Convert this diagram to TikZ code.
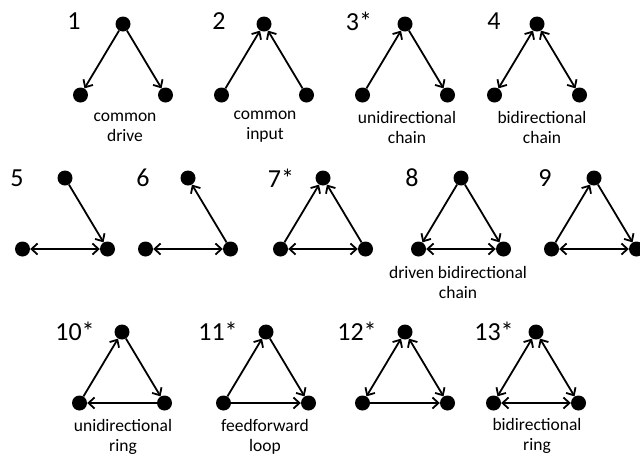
\documentclass[tikz,border=0pt]{standalone}
\usepackage{fontspec}
\setmainfont{Carlito}
\usetikzlibrary{arrows.meta}

% three-node motif: top, bottom-left, bottom-right
\newcommand\triad[3]{%
  \node[dot] (#1t) at (#2,#3) {};
  \node[dot] (#1l) at (#2-42.5,#3+71) {};
  \node[dot] (#1r) at (#2+42.5,#3+71) {};
}

\begin{document}
\begin{tikzpicture}[x=1pt,y=-1pt,
  dot/.style={circle,fill=black,inner sep=0pt,minimum size=15pt},
  link/.style={line width=1.8pt},
  >={Straight Barb[length=6pt,width=11pt]},
  num/.style={font=\fontsize{26}{26}\selectfont,inner sep=0pt},
  motiflabel/.style={font=\fontsize{17.5}{20}\selectfont,align=center,inner sep=0pt}]

\useasboundingbox (0,0) rectangle (640,456);

% ---- row 1 ----
\triad{a}{123}{24}
\triad{b}{264}{24}
\triad{c}{405}{24}
\triad{d}{537}{24}
\node[num] (na) at (74,21.5) {1};
\node[num] (nb) at (219,21.5) {2};
\node[num] (nc) at (359,21.5) {3*};
\node[num] (nd) at (494,21.5) {4};
\node[motiflabel] (ca) at (125,127) {common\\drive};
\node[motiflabel] (cb) at (265,127) {common\\input};
\node[motiflabel] (cc) at (407,127) {unidirectional\\chain};
\node[motiflabel] (cd) at (542,127) {bidirectional\\chain};

\draw[link,->] (at) -- (al);
\draw[link,->] (at) -- (ar);
\draw[link,->] (bl) -- (bt);
\draw[link,->] (br) -- (bt);
\draw[link,->] (cl) -- (ct);
\draw[link,->] (ct) -- (cr);
\draw[link,<->] (dt) -- (dl);
\draw[link,<->] (dt) -- (dr);

% ---- row 2 ----
\triad{e}{65}{178}
\triad{f}{188}{178}
\triad{g}{323}{178}
\triad{h}{461}{178}
\triad{i}{594}{178}
\node[num] (ne) at (17,178) {5};
\node[num] (nf) at (143,178) {6};
\node[num] (ng) at (281,178) {7*};
\node[num] (nh) at (412,178) {8};
\node[num] (ni) at (545,178) {9};
\node[motiflabel] (ch) at (458,282) {driven bidirectional\\chain};

\draw[link,->] (et) -- (er);
\draw[link,<->] (el) -- (er);
\draw[link,->] (fr) -- (ft);
\draw[link,<->] (fl) -- (fr);
\draw[link,->] (gl) -- (gt);
\draw[link,->] (gr) -- (gt);
\draw[link,<->] (gl) -- (gr);
\draw[link,->] (ht) -- (hl);
\draw[link,->] (ht) -- (hr);
\draw[link,<->] (hl) -- (hr);
\draw[link,->] (il) -- (it);
\draw[link,->] (it) -- (ir);
\draw[link,<->] (il) -- (ir);

% ---- row 3 ----
\triad{j}{122}{332}
\triad{k}{266}{332}
\triad{l}{405}{332}
\triad{m}{536}{332}
\node[num] (nj) at (75,331) {10*};
\node[num] (nk) at (218,331) {11*};
\node[num] (nl) at (357,331) {12*};
\node[num] (nm) at (494,331) {13*};
\node[motiflabel] (cj) at (123,437) {unidirectional\\ring};
\node[motiflabel] (ck) at (265,437) {feedforward\\loop};
\node[motiflabel] (cm) at (537,436) {bidirectional\\ring};

\draw[link,->] (jl) -- (jt);
\draw[link,->] (jt) -- (jr);
\draw[link,->] (jr) -- (jl);
\draw[link,->] (kl) -- (kt);
\draw[link,->] (kt) -- (kr);
\draw[link,->] (kl) -- (kr);
\draw[link,<->] (lt) -- (ll);
\draw[link,<->] (lt) -- (lr);
\draw[link,->] (ll) -- (lr);
\draw[link,<->] (mt) -- (ml);
\draw[link,<->] (mt) -- (mr);
\draw[link,<->] (ml) -- (mr);

\end{tikzpicture}
\end{document}
